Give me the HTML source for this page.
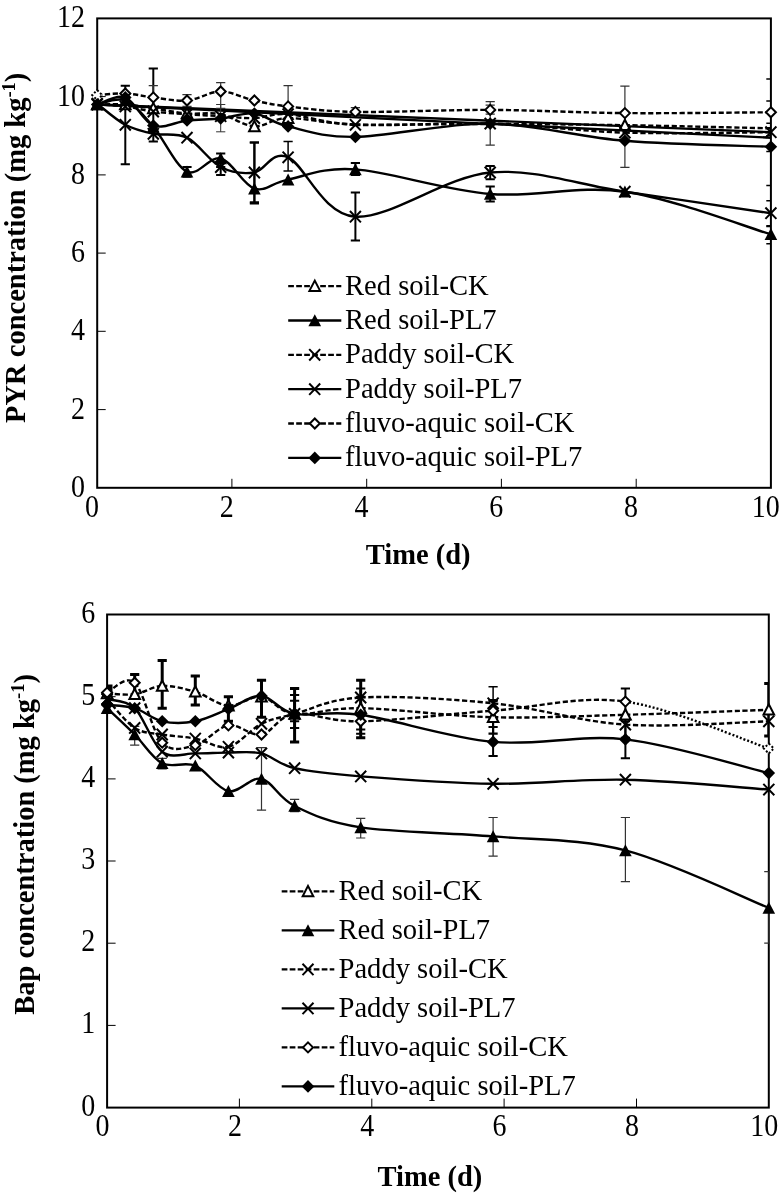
<!DOCTYPE html>
<html><head><meta charset="utf-8"><style>
html,body{margin:0;padding:0;background:#fff;width:783px;height:1195px;overflow:hidden}
svg{display:block;will-change:transform}
.t{font-family:"Liberation Serif",serif;font-size:28px;fill:#000}
.b{font-family:"Liberation Serif",serif;font-size:28.5px;font-weight:bold;fill:#000}
</style></head><body>
<svg width="783" height="1195" viewBox="0 0 783 1195">
<rect width="783" height="1195" fill="#fff"/>
<defs><clipPath id="ct"><rect x="97.2" y="18.4" width="673.7" height="469.4"/></clipPath>
<clipPath id="cb"><rect x="107.1" y="614.5" width="661.7" height="493.1"/></clipPath></defs>
<rect x="97.2" y="18.4" width="673.7" height="469.4" fill="none" stroke="#000" stroke-width="2"/>
<line x1="97.2" y1="409.6" x2="105.7" y2="409.6" stroke="#000" stroke-width="1"/>
<line x1="97.2" y1="331.3" x2="105.7" y2="331.3" stroke="#000" stroke-width="1"/>
<line x1="97.2" y1="253.1" x2="105.7" y2="253.1" stroke="#000" stroke-width="1"/>
<line x1="97.2" y1="174.9" x2="105.7" y2="174.9" stroke="#000" stroke-width="1"/>
<line x1="97.2" y1="96.6" x2="105.7" y2="96.6" stroke="#000" stroke-width="1"/>
<line x1="231.9" y1="487.8" x2="231.9" y2="478.8" stroke="#000" stroke-width="1"/>
<line x1="366.7" y1="487.8" x2="366.7" y2="478.8" stroke="#000" stroke-width="1"/>
<line x1="501.4" y1="487.8" x2="501.4" y2="478.8" stroke="#000" stroke-width="1"/>
<line x1="636.2" y1="487.8" x2="636.2" y2="478.8" stroke="#000" stroke-width="1"/>
<text transform="translate(85.1,496.8) scale(1,1.09)" text-anchor="end" class="t">0</text>
<text transform="translate(85.1,418.6) scale(1,1.09)" text-anchor="end" class="t">2</text>
<text transform="translate(85.1,340.3) scale(1,1.09)" text-anchor="end" class="t">4</text>
<text transform="translate(85.1,262.1) scale(1,1.09)" text-anchor="end" class="t">6</text>
<text transform="translate(85.1,183.9) scale(1,1.09)" text-anchor="end" class="t">8</text>
<text transform="translate(85.1,105.6) scale(1,1.09)" text-anchor="end" class="t">10</text>
<text transform="translate(85.1,27.4) scale(1,1.09)" text-anchor="end" class="t">12</text>
<text transform="translate(92.0,516.5) scale(1,1.09)" text-anchor="middle" class="t">0</text>
<text transform="translate(226.7,516.5) scale(1,1.09)" text-anchor="middle" class="t">2</text>
<text transform="translate(361.5,516.5) scale(1,1.09)" text-anchor="middle" class="t">4</text>
<text transform="translate(496.2,516.5) scale(1,1.09)" text-anchor="middle" class="t">6</text>
<text transform="translate(631.0,516.5) scale(1,1.09)" text-anchor="middle" class="t">8</text>
<text transform="translate(765.7,516.5) scale(1,1.09)" text-anchor="middle" class="t">10</text>
<g clip-path="url(#ct)"><line x1="97.2" y1="104.5" x2="770.9" y2="132.2" stroke="#000" stroke-width="2.4"/>
<line x1="97.2" y1="104.5" x2="770.9" y2="137.7" stroke="#000" stroke-width="2.4"/></g>
<g clip-path="url(#ct)">

<path d="M97.2,104.5 C101.9,104.5 115.9,103.8 125.3,104.5 M125.3,104.5 C134.6,105.1 143.0,106.9 153.3,108.4 M153.3,108.4 C163.6,109.9 175.8,112.5 187.0,113.5 M187.0,113.5 C198.2,114.4 209.5,112.1 220.7,114.2 M220.7,114.2 C231.9,116.4 243.1,125.7 254.4,126.4 M254.4,126.4 C265.6,127.0 271.2,118.5 288.1,118.1 M288.1,118.1 C304.9,117.8 321.7,123.4 355.4,124.4 M355.4,124.4 C389.1,125.4 445.3,123.9 490.2,124.0 M490.2,124.0 C535.1,124.1 578.1,124.5 624.9,125.2 M624.9,125.2 C671.7,125.9 746.6,127.8 770.9,128.3" fill="none" stroke="#000" stroke-width="2.4" stroke-dasharray="5.2,2.6"/>
<path d="M97.2,104.5 C101.9,103.8 115.9,96.8 125.3,100.5 M125.3,100.5 C134.6,104.3 143.0,114.9 153.3,126.8 M153.3,126.8 C163.6,138.6 175.8,166.5 187.0,171.7 M187.0,171.7 C198.2,177.0 209.5,155.6 220.7,158.4 M220.7,158.4 C231.9,161.2 243.1,185.0 254.4,188.6 M254.4,188.6 C265.6,192.1 271.2,182.8 288.1,179.6 M288.1,179.6 C304.9,176.4 321.7,167.0 355.4,169.4 M355.4,169.4 C389.1,171.8 445.3,190.3 490.2,194.0 M490.2,194.0 C535.1,197.7 578.1,185.0 624.9,191.7 M624.9,191.7 C671.7,198.4 746.6,227.2 770.9,234.3" fill="none" stroke="#000" stroke-width="2.4"/>
<path d="M97.2,104.5 C101.9,104.8 115.9,105.2 125.3,106.4 M125.3,106.4 C134.6,107.6 143.0,110.2 153.3,111.5 M153.3,111.5 C163.6,112.8 175.8,113.5 187.0,114.2 M187.0,114.2 C198.2,115.0 209.5,115.5 220.7,116.2 M220.7,116.2 C231.9,116.8 243.1,118.5 254.4,118.1 M254.4,118.1 C265.6,117.8 271.2,113.1 288.1,114.2 M288.1,114.2 C304.9,115.3 321.7,123.2 355.4,124.8 M355.4,124.8 C389.1,126.4 445.3,122.3 490.2,123.6 M490.2,123.6 C535.1,124.9 578.1,131.2 624.9,132.6 M624.9,132.6 C671.7,134.1 746.6,132.3 770.9,132.2" fill="none" stroke="#000" stroke-width="2.4" stroke-dasharray="5.2,2.6"/>
<path d="M97.2,103.7 C101.9,107.2 115.9,119.8 125.3,124.8 M125.3,124.8 C134.6,129.8 143.0,131.6 153.3,133.8 M153.3,133.8 C163.6,135.9 175.8,132.2 187.0,137.7 M187.0,137.7 C198.2,143.2 209.5,161.2 220.7,167.0 M220.7,167.0 C231.9,172.8 243.1,174.1 254.4,172.5 M254.4,172.5 C265.6,170.9 271.2,149.9 288.1,157.3 M288.1,157.3 C304.9,164.6 321.7,214.2 355.4,216.7 M355.4,216.7 C389.1,219.3 445.3,176.7 490.2,172.5 M490.2,172.5 C535.1,168.3 578.1,184.9 624.9,191.7 M624.9,191.7 C671.7,198.5 746.6,209.6 770.9,213.2" fill="none" stroke="#000" stroke-width="2.4"/>
<path d="M97.2,95.1 C101.9,94.8 115.9,93.1 125.3,93.5 M125.3,93.5 C134.6,93.9 143.0,96.2 153.3,97.4 M153.3,97.4 C163.6,98.6 175.8,101.5 187.0,100.5 M187.0,100.5 C198.2,99.6 209.5,91.5 220.7,91.5 M220.7,91.5 C231.9,91.5 243.1,98.1 254.4,100.5 M254.4,100.5 C265.6,103.0 271.2,104.5 288.1,106.4 M288.1,106.4 C304.9,108.3 321.7,111.3 355.4,111.9 M355.4,111.9 C389.1,112.5 445.3,109.7 490.2,109.9 M490.2,109.9 C535.1,110.1 578.1,112.7 624.9,113.1 M624.9,113.1 C671.7,113.5 746.6,112.4 770.9,112.3" fill="none" stroke="#000" stroke-width="2.4" stroke-dasharray="5.2,2.6"/>
<path d="M97.2,104.5 C101.9,103.3 115.9,93.9 125.3,97.4 M125.3,97.4 C134.6,100.9 143.0,121.7 153.3,125.6 M153.3,125.6 C163.6,129.4 175.8,121.7 187.0,120.5 M187.0,120.5 C198.2,119.3 209.5,119.7 220.7,118.5 M220.7,118.5 C231.9,117.4 243.1,112.1 254.4,113.5 M254.4,113.5 C265.6,114.8 271.2,122.5 288.1,126.4 M288.1,126.4 C304.9,130.3 321.7,137.4 355.4,136.9 M355.4,136.9 C389.1,136.5 445.3,123.0 490.2,123.6 M490.2,123.6 C535.1,124.3 578.1,137.0 624.9,140.8 M624.9,140.8 C671.7,144.7 746.6,145.7 770.9,146.7" fill="none" stroke="#000" stroke-width="2.4"/>
<path d="M125.3,85.7 V164.3 M120.7,85.7 H129.9 M120.7,164.3 H129.9" stroke="#000" stroke-width="2" fill="none"/>
<path d="M153.3,68.5 V141.6 M148.7,68.5 H157.9 M148.7,141.6 H157.9" stroke="#000" stroke-width="2" fill="none"/>
<path d="M153.3,85.7 V109.2 M148.7,85.7 H157.9 M148.7,109.2 H157.9" stroke="#333" stroke-width="1.2" fill="none"/>
<path d="M254.4,142.4 V203.4 M249.8,142.4 H259.0 M249.8,203.4 H259.0" stroke="#000" stroke-width="2" fill="none"/>
<path d="M355.4,192.5 V240.6 M350.8,192.5 H360.0 M350.8,240.6 H360.0" stroke="#000" stroke-width="2" fill="none"/>
<path d="M254.4,142.4 V202.2 M249.8,142.4 H259.0 M249.8,202.2 H259.0" stroke="#000" stroke-width="2" fill="none"/>
<path d="M288.1,141.6 V171.0 M283.5,141.6 H292.7 M283.5,171.0 H292.7" stroke="#000" stroke-width="1.5" fill="none"/>
<path d="M187.0,167.0 V176.8 M182.4,167.0 H191.6 M182.4,176.8 H191.6" stroke="#000" stroke-width="2" fill="none"/>
<path d="M220.7,153.4 V167.0 M216.1,153.4 H225.3 M216.1,167.0 H225.3" stroke="#000" stroke-width="2" fill="none"/>
<path d="M220.7,161.2 V174.9 M216.1,161.2 H225.3 M216.1,174.9 H225.3" stroke="#000" stroke-width="2" fill="none"/>
<path d="M220.7,82.6 V108.4 M216.1,82.6 H225.3 M216.1,108.4 H225.3" stroke="#333" stroke-width="1.2" fill="none"/>
<path d="M288.1,85.7 V120.1 M283.5,85.7 H292.7 M283.5,120.1 H292.7" stroke="#333" stroke-width="1.2" fill="none"/>
<path d="M355.4,107.6 V116.2 M350.8,107.6 H360.0 M350.8,116.2 H360.0" stroke="#333" stroke-width="1.2" fill="none"/>
<path d="M220.7,104.5 V131.8 M216.1,104.5 H225.3 M216.1,131.8 H225.3" stroke="#333" stroke-width="1" fill="none"/>
<path d="M490.2,101.7 V145.1 M485.6,101.7 H494.8 M485.6,145.1 H494.8" stroke="#333" stroke-width="1.2" fill="none"/>
<path d="M490.2,165.9 V179.2 M485.6,165.9 H494.8 M485.6,179.2 H494.8" stroke="#000" stroke-width="2" fill="none"/>
<path d="M490.2,186.6 V201.5 M485.6,186.6 H494.8 M485.6,201.5 H494.8" stroke="#000" stroke-width="2" fill="none"/>
<path d="M624.9,86.1 V167.4 M620.3,86.1 H629.5 M620.3,167.4 H629.5" stroke="#333" stroke-width="1.2" fill="none"/>
<path d="M187.0,94.7 V106.4 M182.4,94.7 H191.6 M182.4,106.4 H191.6" stroke="#333" stroke-width="1.2" fill="none"/>
<path d="M490.2,105.2 V114.2 M485.6,105.2 H494.8 M485.6,114.2 H494.8" stroke="#333" stroke-width="1.2" fill="none"/>
<path d="M355.4,163.1 V174.9 M350.8,163.1 H360.0 M350.8,174.9 H360.0" stroke="#000" stroke-width="2" fill="none"/>
<path d="M770.9,100.9 V123.2 M766.3,100.9 H775.5 M766.3,123.2 H775.5" stroke="#000" stroke-width="1.5" fill="none"/>
<path d="M770.9,79.0 V135.8 M766.3,79.0 H775.5 M766.3,135.8 H775.5" stroke="#000" stroke-width="1.5" fill="none"/>
<path d="M770.9,200.7 V225.7 M766.3,200.7 H775.5 M766.3,225.7 H775.5" stroke="#000" stroke-width="1.5" fill="none"/>
<path d="M770.9,226.5 V243.7 M766.3,226.5 H775.5 M766.3,243.7 H775.5" stroke="#000" stroke-width="1.5" fill="none"/>
<path d="M770.9,151.4 V185.4 M766.3,151.4 H775.5 M766.3,185.4 H775.5" stroke="#000" stroke-width="1.5" fill="none"/>
</g>
<path d="M97.2,99.0 L102.5,109.3 L91.9,109.3 Z" fill="#fff" stroke="#000" stroke-width="2"/>
<path d="M125.3,99.0 L130.6,109.3 L120.0,109.3 Z" fill="#fff" stroke="#000" stroke-width="2"/>
<path d="M153.3,102.9 L158.6,113.2 L148.0,113.2 Z" fill="#fff" stroke="#000" stroke-width="2"/>
<path d="M187.0,108.0 L192.3,118.3 L181.7,118.3 Z" fill="#fff" stroke="#000" stroke-width="2"/>
<path d="M254.4,120.9 L259.7,131.2 L249.1,131.2 Z" fill="#fff" stroke="#000" stroke-width="2"/>
<path d="M288.1,112.6 L293.4,122.9 L282.8,122.9 Z" fill="#fff" stroke="#000" stroke-width="2"/>
<path d="M624.9,119.7 L630.2,130.0 L619.6,130.0 Z" fill="#fff" stroke="#000" stroke-width="2"/>
<path d="M97.2,98.3 L103.5,110.3 L90.9,110.3 Z" fill="#000"/>
<path d="M125.3,94.3 L131.6,106.3 L119.0,106.3 Z" fill="#000"/>
<path d="M153.3,120.6 L159.6,132.6 L147.0,132.6 Z" fill="#000"/>
<path d="M187.0,165.5 L193.3,177.5 L180.7,177.5 Z" fill="#000"/>
<path d="M220.7,152.2 L227.0,164.2 L214.4,164.2 Z" fill="#000"/>
<path d="M254.4,182.4 L260.7,194.4 L248.1,194.4 Z" fill="#000"/>
<path d="M288.1,173.4 L294.4,185.4 L281.8,185.4 Z" fill="#000"/>
<path d="M355.4,163.2 L361.7,175.2 L349.1,175.2 Z" fill="#000"/>
<path d="M490.2,187.8 L496.5,199.8 L483.9,199.8 Z" fill="#000"/>
<path d="M624.9,185.5 L631.2,197.5 L618.6,197.5 Z" fill="#000"/>
<path d="M770.9,228.1 L777.2,240.1 L764.6,240.1 Z" fill="#000"/>
<path d="M91.7,98.8 L102.7,110.2 M102.7,98.8 L91.7,110.2" stroke="#000" stroke-width="2" fill="none"/>
<path d="M119.8,100.7 L130.8,112.1 M130.8,100.7 L119.8,112.1" stroke="#000" stroke-width="2" fill="none"/>
<path d="M147.8,105.8 L158.8,117.2 M158.8,105.8 L147.8,117.2" stroke="#000" stroke-width="2" fill="none"/>
<path d="M181.5,108.5 L192.5,119.9 M192.5,108.5 L181.5,119.9" stroke="#000" stroke-width="2" fill="none"/>
<path d="M215.2,110.5 L226.2,121.9 M226.2,110.5 L215.2,121.9" stroke="#000" stroke-width="2" fill="none"/>
<path d="M248.9,112.4 L259.9,123.8 M259.9,112.4 L248.9,123.8" stroke="#000" stroke-width="2" fill="none"/>
<path d="M282.6,108.5 L293.6,119.9 M293.6,108.5 L282.6,119.9" stroke="#000" stroke-width="2" fill="none"/>
<path d="M349.9,119.1 L360.9,130.5 M360.9,119.1 L349.9,130.5" stroke="#000" stroke-width="2" fill="none"/>
<path d="M484.7,117.9 L495.7,129.3 M495.7,117.9 L484.7,129.3" stroke="#000" stroke-width="2" fill="none"/>
<path d="M619.4,126.9 L630.4,138.3 M630.4,126.9 L619.4,138.3" stroke="#000" stroke-width="2" fill="none"/>
<path d="M765.4,126.5 L776.4,137.9 M776.4,126.5 L765.4,137.9" stroke="#000" stroke-width="2" fill="none"/>
<path d="M91.7,98.0 L102.7,109.4 M102.7,98.0 L91.7,109.4" stroke="#000" stroke-width="2" fill="none"/>
<path d="M119.8,119.1 L130.8,130.5 M130.8,119.1 L119.8,130.5" stroke="#000" stroke-width="2" fill="none"/>
<path d="M147.8,128.1 L158.8,139.5 M158.8,128.1 L147.8,139.5" stroke="#000" stroke-width="2" fill="none"/>
<path d="M181.5,132.0 L192.5,143.4 M192.5,132.0 L181.5,143.4" stroke="#000" stroke-width="2" fill="none"/>
<path d="M215.2,161.3 L226.2,172.7 M226.2,161.3 L215.2,172.7" stroke="#000" stroke-width="2" fill="none"/>
<path d="M248.9,166.8 L259.9,178.2 M259.9,166.8 L248.9,178.2" stroke="#000" stroke-width="2" fill="none"/>
<path d="M282.6,151.6 L293.6,163.0 M293.6,151.6 L282.6,163.0" stroke="#000" stroke-width="2" fill="none"/>
<path d="M349.9,211.0 L360.9,222.4 M360.9,211.0 L349.9,222.4" stroke="#000" stroke-width="2" fill="none"/>
<path d="M484.7,166.8 L495.7,178.2 M495.7,166.8 L484.7,178.2" stroke="#000" stroke-width="2" fill="none"/>
<path d="M619.4,186.0 L630.4,197.4 M630.4,186.0 L619.4,197.4" stroke="#000" stroke-width="2" fill="none"/>
<path d="M765.4,207.5 L776.4,218.9 M776.4,207.5 L765.4,218.9" stroke="#000" stroke-width="2" fill="none"/>
<path d="M97.2,90.1 L102.2,95.1 L97.2,100.1 L92.2,95.1 Z" fill="#fff" stroke="#000" stroke-width="2" stroke-dasharray="2,2"/>
<path d="M125.3,88.5 L130.3,93.5 L125.3,98.5 L120.3,93.5 Z" fill="#fff" stroke="#000" stroke-width="2"/>
<path d="M153.3,92.4 L158.3,97.4 L153.3,102.4 L148.3,97.4 Z" fill="#fff" stroke="#000" stroke-width="2"/>
<path d="M187.0,95.5 L192.0,100.5 L187.0,105.5 L182.0,100.5 Z" fill="#fff" stroke="#000" stroke-width="2"/>
<path d="M220.7,86.5 L225.7,91.5 L220.7,96.5 L215.7,91.5 Z" fill="#fff" stroke="#000" stroke-width="2"/>
<path d="M254.4,95.5 L259.4,100.5 L254.4,105.5 L249.4,100.5 Z" fill="#fff" stroke="#000" stroke-width="2"/>
<path d="M288.1,101.4 L293.1,106.4 L288.1,111.4 L283.1,106.4 Z" fill="#fff" stroke="#000" stroke-width="2"/>
<path d="M355.4,106.9 L360.4,111.9 L355.4,116.9 L350.4,111.9 Z" fill="#fff" stroke="#000" stroke-width="2"/>
<path d="M490.2,104.9 L495.2,109.9 L490.2,114.9 L485.2,109.9 Z" fill="#fff" stroke="#000" stroke-width="2"/>
<path d="M624.9,108.1 L629.9,113.1 L624.9,118.1 L619.9,113.1 Z" fill="#fff" stroke="#000" stroke-width="2"/>
<path d="M770.9,107.3 L775.9,112.3 L770.9,117.3 L765.9,112.3 Z" fill="#fff" stroke="#000" stroke-width="2"/>
<path d="M97.2,98.2 L103.5,104.5 L97.2,110.8 L90.9,104.5 Z" fill="#000"/>
<path d="M125.3,91.1 L131.6,97.4 L125.3,103.7 L119.0,97.4 Z" fill="#000"/>
<path d="M153.3,119.3 L159.6,125.6 L153.3,131.9 L147.0,125.6 Z" fill="#000"/>
<path d="M187.0,114.2 L193.3,120.5 L187.0,126.8 L180.7,120.5 Z" fill="#000"/>
<path d="M220.7,112.2 L227.0,118.5 L220.7,124.8 L214.4,118.5 Z" fill="#000"/>
<path d="M254.4,107.2 L260.7,113.5 L254.4,119.8 L248.1,113.5 Z" fill="#000"/>
<path d="M288.1,120.1 L294.4,126.4 L288.1,132.7 L281.8,126.4 Z" fill="#000"/>
<path d="M355.4,130.6 L361.7,136.9 L355.4,143.2 L349.1,136.9 Z" fill="#000"/>
<path d="M490.2,117.3 L496.5,123.6 L490.2,129.9 L483.9,123.6 Z" fill="#000"/>
<path d="M624.9,134.5 L631.2,140.8 L624.9,147.1 L618.6,140.8 Z" fill="#000"/>
<path d="M770.9,140.4 L777.2,146.7 L770.9,153.0 L764.6,146.7 Z" fill="#000"/>
<line x1="288.2" y1="286.1" x2="341.3" y2="286.1" stroke="#000" stroke-width="2.3" stroke-dasharray="5.7,2.3"/>
<path d="M314.8,280.6 L320.1,290.9 L309.4,290.9 Z" fill="#fff" stroke="#000" stroke-width="2"/>
<text transform="translate(345.0,294.5) scale(1,1.03)" class="t" style="font-size:28.6px">Red soil-CK</text>
<line x1="288.2" y1="320.5" x2="341.3" y2="320.5" stroke="#000" stroke-width="2.3"/>
<path d="M314.8,314.3 L321.1,326.3 L308.4,326.3 Z" fill="#000"/>
<text transform="translate(345.0,328.9) scale(1,1.03)" class="t" style="font-size:28.6px">Red soil-PL7</text>
<line x1="288.2" y1="354.8" x2="341.3" y2="354.8" stroke="#000" stroke-width="2.3" stroke-dasharray="5.7,2.3"/>
<path d="M309.2,349.1 L320.2,360.5 M320.2,349.1 L309.2,360.5" stroke="#000" stroke-width="2" fill="none"/>
<text transform="translate(345.0,363.2) scale(1,1.03)" class="t" style="font-size:28.6px">Paddy soil-CK</text>
<line x1="288.2" y1="389.2" x2="341.3" y2="389.2" stroke="#000" stroke-width="2.3"/>
<path d="M309.2,383.5 L320.2,394.9 M320.2,383.5 L309.2,394.9" stroke="#000" stroke-width="2" fill="none"/>
<text transform="translate(345.0,397.6) scale(1,1.03)" class="t" style="font-size:28.6px">Paddy soil-PL7</text>
<line x1="288.2" y1="423.5" x2="341.3" y2="423.5" stroke="#000" stroke-width="2.3" stroke-dasharray="5.7,2.3"/>
<path d="M314.8,418.5 L319.8,423.5 L314.8,428.5 L309.8,423.5 Z" fill="#fff" stroke="#000" stroke-width="2"/>
<text transform="translate(345.0,431.9) scale(1,1.03)" class="t" style="font-size:28.6px">fluvo-aquic soil-CK</text>
<line x1="288.2" y1="457.9" x2="341.3" y2="457.9" stroke="#000" stroke-width="2.3"/>
<path d="M314.8,451.6 L321.1,457.9 L314.8,464.2 L308.4,457.9 Z" fill="#000"/>
<text transform="translate(345.0,466.2) scale(1,1.03)" class="t" style="font-size:28.6px">fluvo-aquic soil-PL7</text>
<text class="b" transform="translate(24.9,247.8) rotate(-90)" text-anchor="middle">PYR concentration (mg kg<tspan dy="-10" font-size="18.5">-1</tspan><tspan dy="10">)</tspan></text>
<text class="b" x="418.2" y="564" text-anchor="middle">Time (d)</text>
<rect x="107.1" y="614.5" width="661.7" height="493.1" fill="none" stroke="#000" stroke-width="2"/>
<line x1="107.1" y1="1025.4" x2="115.6" y2="1025.4" stroke="#000" stroke-width="1"/>
<line x1="107.1" y1="943.2" x2="115.6" y2="943.2" stroke="#000" stroke-width="1"/>
<line x1="107.1" y1="861.0" x2="115.6" y2="861.0" stroke="#000" stroke-width="1"/>
<line x1="107.1" y1="778.9" x2="115.6" y2="778.9" stroke="#000" stroke-width="1"/>
<line x1="107.1" y1="696.7" x2="115.6" y2="696.7" stroke="#000" stroke-width="1"/>
<line x1="239.4" y1="1107.6" x2="239.4" y2="1098.6" stroke="#000" stroke-width="1"/>
<line x1="371.8" y1="1107.6" x2="371.8" y2="1098.6" stroke="#000" stroke-width="1"/>
<line x1="504.1" y1="1107.6" x2="504.1" y2="1098.6" stroke="#000" stroke-width="1"/>
<line x1="636.5" y1="1107.6" x2="636.5" y2="1098.6" stroke="#000" stroke-width="1"/>
<text transform="translate(95.2,1115.6) scale(1,1.09)" text-anchor="end" class="t">0</text>
<text transform="translate(95.2,1033.4) scale(1,1.09)" text-anchor="end" class="t">1</text>
<text transform="translate(95.2,951.2) scale(1,1.09)" text-anchor="end" class="t">2</text>
<text transform="translate(95.2,869.0) scale(1,1.09)" text-anchor="end" class="t">3</text>
<text transform="translate(95.2,786.9) scale(1,1.09)" text-anchor="end" class="t">4</text>
<text transform="translate(95.2,704.7) scale(1,1.09)" text-anchor="end" class="t">5</text>
<text transform="translate(95.2,622.5) scale(1,1.09)" text-anchor="end" class="t">6</text>
<text transform="translate(102.6,1135.8) scale(1,1.09)" text-anchor="middle" class="t">0</text>
<text transform="translate(234.9,1135.8) scale(1,1.09)" text-anchor="middle" class="t">2</text>
<text transform="translate(367.3,1135.8) scale(1,1.09)" text-anchor="middle" class="t">4</text>
<text transform="translate(499.6,1135.8) scale(1,1.09)" text-anchor="middle" class="t">6</text>
<text transform="translate(632.0,1135.8) scale(1,1.09)" text-anchor="middle" class="t">8</text>
<text transform="translate(764.3,1135.8) scale(1,1.09)" text-anchor="middle" class="t">10</text>
<g clip-path="url(#cb)">
<rect x="101.5" y="684.5" width="11" height="12" fill="#000"/>
<path d="M107.1,693.4 C111.7,693.5 125.5,695.5 134.7,694.2 M134.7,694.2 C143.9,693.0 152.1,686.4 162.2,686.0 M162.2,686.0 C172.3,685.6 184.3,688.5 195.3,691.8 M195.3,691.8 C206.3,695.0 217.4,704.9 228.4,705.7 M228.4,705.7 C239.4,706.5 250.4,695.3 261.5,696.7 M261.5,696.7 C272.5,698.1 278.0,712.0 294.6,713.9 M294.6,713.9 C311.1,715.9 327.6,707.6 360.7,708.2 M360.7,708.2 C393.8,708.7 449.0,716.1 493.1,717.2 M493.1,717.2 C537.2,718.3 579.5,716.0 625.4,714.8 M625.4,714.8 C671.4,713.5 744.9,710.7 768.8,709.8" fill="none" stroke="#000" stroke-width="2.4" stroke-dasharray="5.2,2.6"/>
<path d="M107.1,708.2 C111.7,712.6 125.5,725.3 134.7,734.5 M134.7,734.5 C143.9,743.7 152.1,758.0 162.2,763.3 M162.2,763.3 C172.3,768.5 184.3,761.1 195.3,765.7 M195.3,765.7 C206.3,770.4 217.4,789.0 228.4,791.2 M228.4,791.2 C239.4,793.4 250.4,776.4 261.5,778.9 M261.5,778.9 C272.5,781.3 278.0,797.9 294.6,806.0 M294.6,806.0 C311.1,814.1 327.6,822.3 360.7,827.4 M360.7,827.4 C393.8,832.4 449.0,832.6 493.1,836.4 M493.1,836.4 C537.2,840.2 579.5,838.4 625.4,850.4 M625.4,850.4 C671.4,862.3 744.9,898.3 768.8,907.9" fill="none" stroke="#000" stroke-width="2.4"/>
<path d="M107.1,699.1 C111.7,703.9 125.5,722.0 134.7,727.9 M134.7,727.9 C143.9,733.8 152.1,732.7 162.2,734.5 M162.2,734.5 C172.3,736.3 184.3,736.5 195.3,738.6 M195.3,738.6 C206.3,740.7 217.4,749.3 228.4,746.8 M228.4,746.8 C239.4,744.3 250.4,729.3 261.5,723.8 M261.5,723.8 C272.5,718.3 278.0,718.3 294.6,713.9 M294.6,713.9 C311.1,709.6 327.6,699.3 360.7,697.5 M360.7,697.5 C393.8,695.7 449.0,698.7 493.1,703.3 M493.1,703.3 C537.2,707.8 579.5,721.6 625.4,724.6 M625.4,724.6 C671.4,727.6 744.9,721.9 768.8,721.3" fill="none" stroke="#000" stroke-width="2.4" stroke-dasharray="5.2,2.6"/>
<path d="M107.1,699.1 C111.7,700.7 125.5,699.4 134.7,708.2 M134.7,708.2 C143.9,717.0 152.1,744.2 162.2,751.7 M162.2,751.7 C172.3,759.3 184.3,753.3 195.3,753.4 M195.3,753.4 C206.3,753.5 217.4,752.6 228.4,752.6 M228.4,752.6 C239.4,752.6 250.4,750.8 261.5,753.4 M261.5,753.4 C272.5,756.0 278.0,764.3 294.6,768.2 M294.6,768.2 C311.1,772.0 327.6,773.8 360.7,776.4 M360.7,776.4 C393.8,779.0 449.0,783.2 493.1,783.8 M493.1,783.8 C537.2,784.3 579.5,778.7 625.4,779.7 M625.4,779.7 C671.4,780.6 744.9,787.9 768.8,789.6" fill="none" stroke="#000" stroke-width="2.4"/>
<path d="M107.1,692.6 C111.7,690.9 125.5,674.4 134.7,682.7 M134.7,682.7 C143.9,691.1 152.1,732.3 162.2,742.7 M162.2,742.7 C172.3,753.1 184.3,748.0 195.3,745.2 M195.3,745.2 C206.3,742.3 217.4,727.2 228.4,725.4 M228.4,725.4 C239.4,723.7 250.4,736.4 261.5,734.5 M261.5,734.5 C272.5,732.6 278.0,716.1 294.6,713.9 M294.6,713.9 C311.1,711.8 327.6,721.9 360.7,721.3 M360.7,721.3 C393.8,720.8 449.0,713.9 493.1,710.7 M493.1,710.7 C537.2,707.4 579.5,695.3 625.4,701.6" fill="none" stroke="#000" stroke-width="2.4" stroke-dasharray="5.2,2.6"/>
<path d="M625.4,701.6 C671.4,707.9 744.9,740.7 768.8,748.5" fill="none" stroke="#000" stroke-width="2.4" stroke-dasharray="2,2"/>
<path d="M107.1,704.9 C111.7,705.4 125.5,705.4 134.7,708.2 M134.7,708.2 C143.9,710.9 152.1,719.1 162.2,721.3 M162.2,721.3 C172.3,723.5 184.3,723.4 195.3,721.3 M195.3,721.3 C206.3,719.3 217.4,713.3 228.4,709.0 M228.4,709.0 C239.4,704.8 250.4,695.0 261.5,695.9 M261.5,695.9 C272.5,696.7 278.0,710.8 294.6,713.9 M294.6,713.9 C311.1,717.1 327.6,710.1 360.7,714.8 M360.7,714.8 C393.8,719.4 449.0,737.8 493.1,741.9 M493.1,741.9 C537.2,746.0 579.5,734.2 625.4,739.4 M625.4,739.4 C671.4,744.6 744.9,767.5 768.8,773.1" fill="none" stroke="#000" stroke-width="2.4"/>
<path d="M162.2,660.5 V708.2 M157.6,660.5 H166.8 M157.6,708.2 H166.8" stroke="#000" stroke-width="3" fill="none"/>
<path d="M195.3,676.1 V704.9 M190.7,676.1 H199.9 M190.7,704.9 H199.9" stroke="#000" stroke-width="3" fill="none"/>
<path d="M134.7,674.5 V696.7 M130.1,674.5 H139.3 M130.1,696.7 H139.3" stroke="#000" stroke-width="3" fill="none"/>
<path d="M261.5,747.6 V810.1 M256.9,747.6 H266.1 M256.9,810.1 H266.1" stroke="#333" stroke-width="1.2" fill="none"/>
<path d="M493.1,817.5 V856.1 M488.5,817.5 H497.7 M488.5,856.1 H497.7" stroke="#333" stroke-width="1.2" fill="none"/>
<path d="M625.4,817.5 V881.6 M620.8,817.5 H630.0 M620.8,881.6 H630.0" stroke="#333" stroke-width="1.2" fill="none"/>
<path d="M360.7,680.2 V737.8 M356.1,680.2 H365.3 M356.1,737.8 H365.3" stroke="#000" stroke-width="3" fill="none"/>
<path d="M493.1,686.8 V718.1 M488.5,686.8 H497.7 M488.5,718.1 H497.7" stroke="#000" stroke-width="1.5" fill="none"/>
<path d="M493.1,727.1 V755.9 M488.5,727.1 H497.7 M488.5,755.9 H497.7" stroke="#000" stroke-width="2" fill="none"/>
<path d="M493.1,700.8 V733.7 M488.5,700.8 H497.7 M488.5,733.7 H497.7" stroke="#000" stroke-width="2.2" fill="none"/>
<path d="M493.1,700.0 V721.3 M488.5,700.0 H497.7 M488.5,721.3 H497.7" stroke="#000" stroke-width="2.2" fill="none"/>
<path d="M625.4,721.3 V758.3 M620.8,721.3 H630.0 M620.8,758.3 H630.0" stroke="#000" stroke-width="2" fill="none"/>
<path d="M294.6,688.5 V741.9 M290.0,688.5 H299.2 M290.0,741.9 H299.2" stroke="#000" stroke-width="3" fill="none"/>
<path d="M261.5,680.2 V717.2 M256.9,680.2 H266.1 M256.9,717.2 H266.1" stroke="#000" stroke-width="3" fill="none"/>
<path d="M134.7,726.3 V745.2 M130.1,726.3 H139.3 M130.1,745.2 H139.3" stroke="#333" stroke-width="1.2" fill="none"/>
<path d="M360.7,818.3 V838.0 M356.1,818.3 H365.3 M356.1,838.0 H365.3" stroke="#333" stroke-width="1.2" fill="none"/>
<path d="M294.6,799.4 V811.7 M290.0,799.4 H299.2 M290.0,811.7 H299.2" stroke="#333" stroke-width="1.2" fill="none"/>
<path d="M228.4,696.7 V721.3 M223.8,696.7 H233.0 M223.8,721.3 H233.0" stroke="#000" stroke-width="3" fill="none"/>
<path d="M625.4,688.5 V737.8 M620.8,688.5 H630.0 M620.8,737.8 H630.0" stroke="#000" stroke-width="2" fill="none"/>
<path d="M162.2,758.3 V769.0 M157.6,758.3 H166.8 M157.6,769.0 H166.8" stroke="#333" stroke-width="1.2" fill="none"/>
<path d="M768.8,683.5 V736.1 M764.2,683.5 H773.4 M764.2,736.1 H773.4" stroke="#000" stroke-width="3" fill="none"/>
<path d="M294.6,695.0 V727.9 M290.0,695.0 H299.2 M290.0,727.9 H299.2" stroke="#000" stroke-width="2" fill="none"/>
<path d="M294.6,700.8 V721.3 M290.0,700.8 H299.2 M290.0,721.3 H299.2" stroke="#000" stroke-width="2" fill="none"/>
<path d="M360.7,688.5 V729.6 M356.1,688.5 H365.3 M356.1,729.6 H365.3" stroke="#000" stroke-width="2" fill="none"/>
<path d="M360.7,696.7 V733.7 M356.1,696.7 H365.3 M356.1,733.7 H365.3" stroke="#000" stroke-width="2" fill="none"/>
<path d="M768.8,871.7 V943.2 M764.2,871.7 H773.4 M764.2,943.2 H773.4" stroke="#333" stroke-width="1.2" fill="none"/>
</g>
<path d="M107.1,687.9 L112.4,698.2 L101.8,698.2 Z" fill="#fff" stroke="#000" stroke-width="2"/>
<path d="M134.7,688.7 L140.0,699.0 L129.4,699.0 Z" fill="#fff" stroke="#000" stroke-width="2"/>
<path d="M162.2,680.5 L167.5,690.8 L156.9,690.8 Z" fill="#fff" stroke="#000" stroke-width="2"/>
<path d="M195.3,686.3 L200.6,696.6 L190.0,696.6 Z" fill="#fff" stroke="#000" stroke-width="2"/>
<path d="M228.4,700.2 L233.7,710.5 L223.1,710.5 Z" fill="#fff" stroke="#000" stroke-width="2"/>
<path d="M261.5,691.2 L266.8,701.5 L256.2,701.5 Z" fill="#fff" stroke="#000" stroke-width="2"/>
<path d="M294.6,708.4 L299.9,718.7 L289.3,718.7 Z" fill="#fff" stroke="#000" stroke-width="2"/>
<path d="M360.7,702.7 L366.0,713.0 L355.4,713.0 Z" fill="#fff" stroke="#000" stroke-width="2"/>
<path d="M493.1,711.7 L498.4,722.0 L487.8,722.0 Z" fill="#fff" stroke="#000" stroke-width="2"/>
<path d="M625.4,709.3 L630.7,719.6 L620.1,719.6 Z" fill="#fff" stroke="#000" stroke-width="2"/>
<path d="M768.8,704.3 L774.1,714.6 L763.5,714.6 Z" fill="#fff" stroke="#000" stroke-width="2"/>
<path d="M107.1,702.0 L113.4,714.0 L100.8,714.0 Z" fill="#000"/>
<path d="M134.7,728.3 L141.0,740.3 L128.4,740.3 Z" fill="#000"/>
<path d="M162.2,757.1 L168.5,769.1 L155.9,769.1 Z" fill="#000"/>
<path d="M195.3,759.5 L201.6,771.5 L189.0,771.5 Z" fill="#000"/>
<path d="M228.4,785.0 L234.7,797.0 L222.1,797.0 Z" fill="#000"/>
<path d="M261.5,772.7 L267.8,784.7 L255.2,784.7 Z" fill="#000"/>
<path d="M294.6,799.8 L300.9,811.8 L288.3,811.8 Z" fill="#000"/>
<path d="M360.7,821.2 L367.0,833.2 L354.4,833.2 Z" fill="#000"/>
<path d="M493.1,830.2 L499.4,842.2 L486.8,842.2 Z" fill="#000"/>
<path d="M625.4,844.2 L631.7,856.2 L619.1,856.2 Z" fill="#000"/>
<path d="M768.8,901.7 L775.1,913.7 L762.5,913.7 Z" fill="#000"/>
<path d="M101.6,693.4 L112.6,704.8 M112.6,693.4 L101.6,704.8" stroke="#000" stroke-width="2" fill="none"/>
<path d="M129.2,722.2 L140.2,733.6 M140.2,722.2 L129.2,733.6" stroke="#000" stroke-width="2" fill="none"/>
<path d="M156.7,728.8 L167.7,740.2 M167.7,728.8 L156.7,740.2" stroke="#000" stroke-width="2" fill="none"/>
<path d="M189.8,732.9 L200.8,744.3 M200.8,732.9 L189.8,744.3" stroke="#000" stroke-width="2" fill="none"/>
<path d="M222.9,741.1 L233.9,752.5 M233.9,741.1 L222.9,752.5" stroke="#000" stroke-width="2" fill="none"/>
<path d="M256.0,718.1 L267.0,729.5 M267.0,718.1 L256.0,729.5" stroke="#000" stroke-width="2" fill="none"/>
<path d="M289.1,708.2 L300.1,719.6 M300.1,708.2 L289.1,719.6" stroke="#000" stroke-width="2" fill="none"/>
<path d="M355.2,691.8 L366.2,703.2 M366.2,691.8 L355.2,703.2" stroke="#000" stroke-width="2" fill="none"/>
<path d="M487.6,697.6 L498.6,709.0 M498.6,697.6 L487.6,709.0" stroke="#000" stroke-width="2" fill="none"/>
<path d="M619.9,718.9 L630.9,730.3 M630.9,718.9 L619.9,730.3" stroke="#000" stroke-width="2" fill="none"/>
<path d="M763.3,715.6 L774.3,727.0 M774.3,715.6 L763.3,727.0" stroke="#000" stroke-width="2" fill="none"/>
<path d="M101.6,693.4 L112.6,704.8 M112.6,693.4 L101.6,704.8" stroke="#000" stroke-width="2" fill="none"/>
<path d="M129.2,702.5 L140.2,713.9 M140.2,702.5 L129.2,713.9" stroke="#000" stroke-width="2" fill="none"/>
<path d="M156.7,746.0 L167.7,757.4 M167.7,746.0 L156.7,757.4" stroke="#000" stroke-width="2" fill="none"/>
<path d="M189.8,747.7 L200.8,759.1 M200.8,747.7 L189.8,759.1" stroke="#000" stroke-width="2" fill="none"/>
<path d="M222.9,746.9 L233.9,758.3 M233.9,746.9 L222.9,758.3" stroke="#000" stroke-width="2" fill="none"/>
<path d="M256.0,747.7 L267.0,759.1 M267.0,747.7 L256.0,759.1" stroke="#000" stroke-width="2" fill="none"/>
<path d="M289.1,762.5 L300.1,773.9 M300.1,762.5 L289.1,773.9" stroke="#000" stroke-width="2" fill="none"/>
<path d="M355.2,770.7 L366.2,782.1 M366.2,770.7 L355.2,782.1" stroke="#000" stroke-width="2" fill="none"/>
<path d="M487.6,778.1 L498.6,789.5 M498.6,778.1 L487.6,789.5" stroke="#000" stroke-width="2" fill="none"/>
<path d="M619.9,774.0 L630.9,785.4 M630.9,774.0 L619.9,785.4" stroke="#000" stroke-width="2" fill="none"/>
<path d="M763.3,783.9 L774.3,795.3 M774.3,783.9 L763.3,795.3" stroke="#000" stroke-width="2" fill="none"/>
<path d="M107.1,687.6 L112.1,692.6 L107.1,697.6 L102.1,692.6 Z" fill="#fff" stroke="#000" stroke-width="2"/>
<path d="M134.7,677.7 L139.7,682.7 L134.7,687.7 L129.7,682.7 Z" fill="#fff" stroke="#000" stroke-width="2"/>
<path d="M162.2,737.7 L167.2,742.7 L162.2,747.7 L157.2,742.7 Z" fill="#fff" stroke="#000" stroke-width="2"/>
<path d="M195.3,740.2 L200.3,745.2 L195.3,750.2 L190.3,745.2 Z" fill="#fff" stroke="#000" stroke-width="2"/>
<path d="M228.4,720.4 L233.4,725.4 L228.4,730.4 L223.4,725.4 Z" fill="#fff" stroke="#000" stroke-width="2"/>
<path d="M261.5,729.5 L266.5,734.5 L261.5,739.5 L256.5,734.5 Z" fill="#fff" stroke="#000" stroke-width="2"/>
<path d="M294.6,708.9 L299.6,713.9 L294.6,718.9 L289.6,713.9 Z" fill="#fff" stroke="#000" stroke-width="2"/>
<path d="M360.7,716.3 L365.7,721.3 L360.7,726.3 L355.7,721.3 Z" fill="#fff" stroke="#000" stroke-width="2"/>
<path d="M493.1,705.7 L498.1,710.7 L493.1,715.7 L488.1,710.7 Z" fill="#fff" stroke="#000" stroke-width="2"/>
<path d="M625.4,696.6 L630.4,701.6 L625.4,706.6 L620.4,701.6 Z" fill="#fff" stroke="#000" stroke-width="2"/>
<path d="M768.8,743.5 L773.8,748.5 L768.8,753.5 L763.8,748.5 Z" fill="#fff" stroke="#000" stroke-width="2" stroke-dasharray="2,2"/>
<path d="M107.1,698.6 L113.4,704.9 L107.1,711.2 L100.8,704.9 Z" fill="#000"/>
<path d="M134.7,701.9 L141.0,708.2 L134.7,714.5 L128.4,708.2 Z" fill="#000"/>
<path d="M162.2,715.0 L168.5,721.3 L162.2,727.6 L155.9,721.3 Z" fill="#000"/>
<path d="M195.3,715.0 L201.6,721.3 L195.3,727.6 L189.0,721.3 Z" fill="#000"/>
<path d="M228.4,702.7 L234.7,709.0 L228.4,715.3 L222.1,709.0 Z" fill="#000"/>
<path d="M261.5,689.6 L267.8,695.9 L261.5,702.2 L255.2,695.9 Z" fill="#000"/>
<path d="M294.6,707.6 L300.9,713.9 L294.6,720.2 L288.3,713.9 Z" fill="#000"/>
<path d="M360.7,708.5 L367.0,714.8 L360.7,721.1 L354.4,714.8 Z" fill="#000"/>
<path d="M493.1,735.6 L499.4,741.9 L493.1,748.2 L486.8,741.9 Z" fill="#000"/>
<path d="M625.4,733.1 L631.7,739.4 L625.4,745.7 L619.1,739.4 Z" fill="#000"/>
<path d="M768.8,766.8 L775.1,773.1 L768.8,779.4 L762.5,773.1 Z" fill="#000"/>
<line x1="281.7" y1="891.4" x2="334.3" y2="891.4" stroke="#000" stroke-width="2.3" stroke-dasharray="5.7,2.3"/>
<path d="M308.0,885.9 L313.3,896.2 L302.7,896.2 Z" fill="#fff" stroke="#000" stroke-width="2"/>
<text transform="translate(338.5,899.8) scale(1,1.03)" class="t" style="font-size:28.6px">Red soil-CK</text>
<line x1="281.7" y1="930.4" x2="334.3" y2="930.4" stroke="#000" stroke-width="2.3"/>
<path d="M308.0,924.2 L314.3,936.2 L301.7,936.2 Z" fill="#000"/>
<text transform="translate(338.5,938.8) scale(1,1.03)" class="t" style="font-size:28.6px">Red soil-PL7</text>
<line x1="281.7" y1="969.4" x2="334.3" y2="969.4" stroke="#000" stroke-width="2.3" stroke-dasharray="5.7,2.3"/>
<path d="M302.5,963.7 L313.5,975.1 M313.5,963.7 L302.5,975.1" stroke="#000" stroke-width="2" fill="none"/>
<text transform="translate(338.5,977.8) scale(1,1.03)" class="t" style="font-size:28.6px">Paddy soil-CK</text>
<line x1="281.7" y1="1008.4" x2="334.3" y2="1008.4" stroke="#000" stroke-width="2.3"/>
<path d="M302.5,1002.7 L313.5,1014.1 M313.5,1002.7 L302.5,1014.1" stroke="#000" stroke-width="2" fill="none"/>
<text transform="translate(338.5,1016.8) scale(1,1.03)" class="t" style="font-size:28.6px">Paddy soil-PL7</text>
<line x1="281.7" y1="1047.4" x2="334.3" y2="1047.4" stroke="#000" stroke-width="2.3" stroke-dasharray="5.7,2.3"/>
<path d="M308.0,1042.4 L313.0,1047.4 L308.0,1052.4 L303.0,1047.4 Z" fill="#fff" stroke="#000" stroke-width="2"/>
<text transform="translate(338.5,1055.8) scale(1,1.03)" class="t" style="font-size:28.6px">fluvo-aquic soil-CK</text>
<line x1="281.7" y1="1086.4" x2="334.3" y2="1086.4" stroke="#000" stroke-width="2.3"/>
<path d="M308.0,1080.1 L314.3,1086.4 L308.0,1092.7 L301.7,1086.4 Z" fill="#000"/>
<text transform="translate(338.5,1094.8) scale(1,1.03)" class="t" style="font-size:28.6px">fluvo-aquic soil-PL7</text>
<text class="b" transform="translate(33.9,844.4) rotate(-90)" text-anchor="middle">Bap concentration (mg kg<tspan dy="-10" font-size="18.5">-1</tspan><tspan dy="10">)</tspan></text>
<text class="b" x="429.9" y="1185.6" text-anchor="middle">Time (d)</text>
</svg>
</body></html>
